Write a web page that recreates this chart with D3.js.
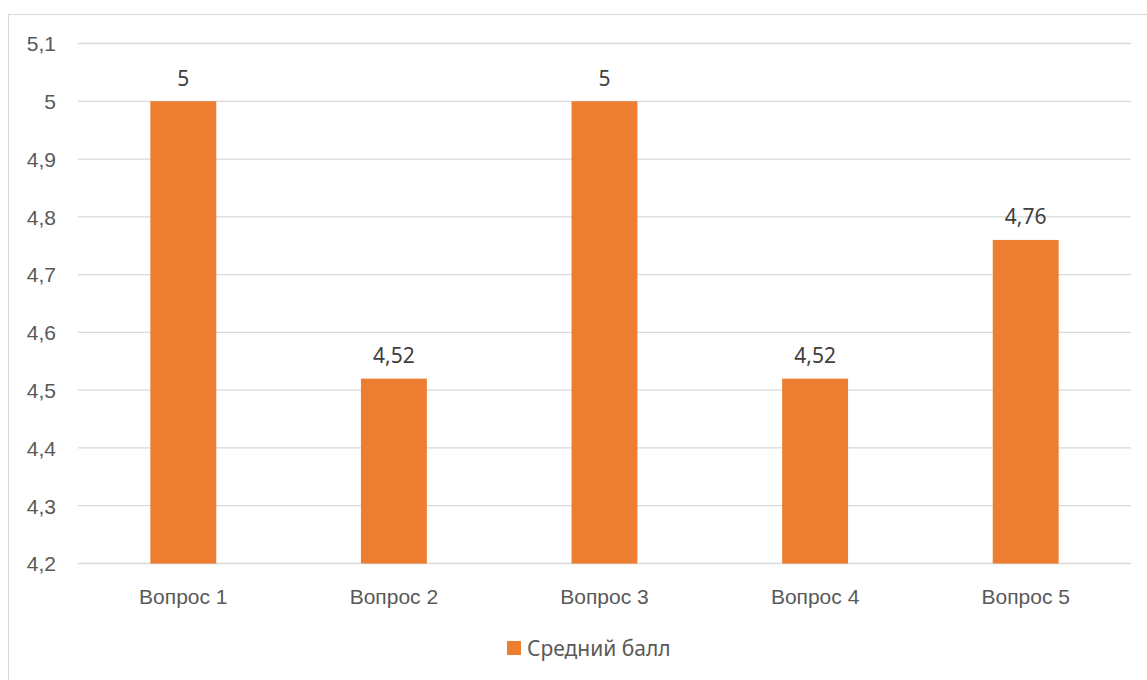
<!DOCTYPE html>
<html><head><meta charset="utf-8">
<script src="https://cdn.jsdelivr.net/npm/d3@7"></script>
<style>body{margin:0;background:#fff;} svg{display:block;font-family:"Noto Sans","Open Sans",sans-serif;}</style>
</head><body>
<svg id="c" width="1147" height="680"></svg>
<script>
const categories = ["Вопрос 1","Вопрос 2","Вопрос 3","Вопрос 4","Вопрос 5"];
const values = [5, 4.52, 5, 4.52, 4.76];
const yTicks = [4.2,4.3,4.4,4.5,4.6,4.7,4.8,4.9,5,5.1];
const seriesName = "Средний балл";
const fmt = v => String(v).replace(".", ",");

(function(){
const FS = "21px";
const svg = d3.select("#c");
svg.append("rect").attr("x",8.5).attr("y",14.5).attr("width",1200).attr("height",700)
  .attr("fill","#fff").attr("stroke","#d9d9d9").attr("stroke-width",1);

const pL=78, pR=1131, pT=43.5, pB=563.5;
const x = d3.scaleBand().domain(categories).range([pL,pR]).paddingInner(0.687).paddingOuter(0.3435);
const y = d3.scaleLinear().domain([4.2,5.1]).range([pB,pT]);

const g = svg.append("g");
g.selectAll("line.grid").data(yTicks).join("line")
  .attr("x1",pL).attr("x2",pR).attr("y1",d=>y(d)).attr("y2",d=>y(d))
  .attr("stroke","#d9d9d9").attr("stroke-width",1.3);

const yAxis = d3.axisLeft(y).tickValues(yTicks).tickFormat(fmt).tickSize(0).tickPadding(0);
const ya = svg.append("g").attr("transform","translate(56,0)").call(yAxis);
ya.select(".domain").remove();
ya.selectAll("text").attr("fill","#595959").style("font-size",FS).attr("dy","0.35em");

g.selectAll("rect.bar").data(values).join("rect")
  .attr("x",(d,i)=>x(categories[i])).attr("width",x.bandwidth())
  .attr("y",d=>y(d)).attr("height",d=>pB-y(d)).attr("fill","#ed7d31");

g.selectAll("text.lbl").data(values).join("text")
  .attr("x",(d,i)=>x(categories[i])+x.bandwidth()/2).attr("y",d=>y(d)-15.5)
  .attr("text-anchor","middle").attr("fill","#404040").style("font-size",FS).text(fmt);

const xAxis = d3.axisBottom(x).tickSize(0).tickPadding(0);
const xa = svg.append("g").attr("transform",`translate(0,${pB})`).call(xAxis);
xa.select(".domain").remove();
xa.selectAll("text").attr("fill","#595959").style("font-size",FS).attr("dy","0").attr("y",40);

const leg = svg.append("g");
leg.append("rect").attr("x",507).attr("y",641).attr("width",14).attr("height",14).attr("fill","#ed7d31");
leg.append("text").attr("x",527).attr("y",655.5).attr("fill","#595959").style("font-size",FS).text(seriesName);
})();
</script>
</body></html>
